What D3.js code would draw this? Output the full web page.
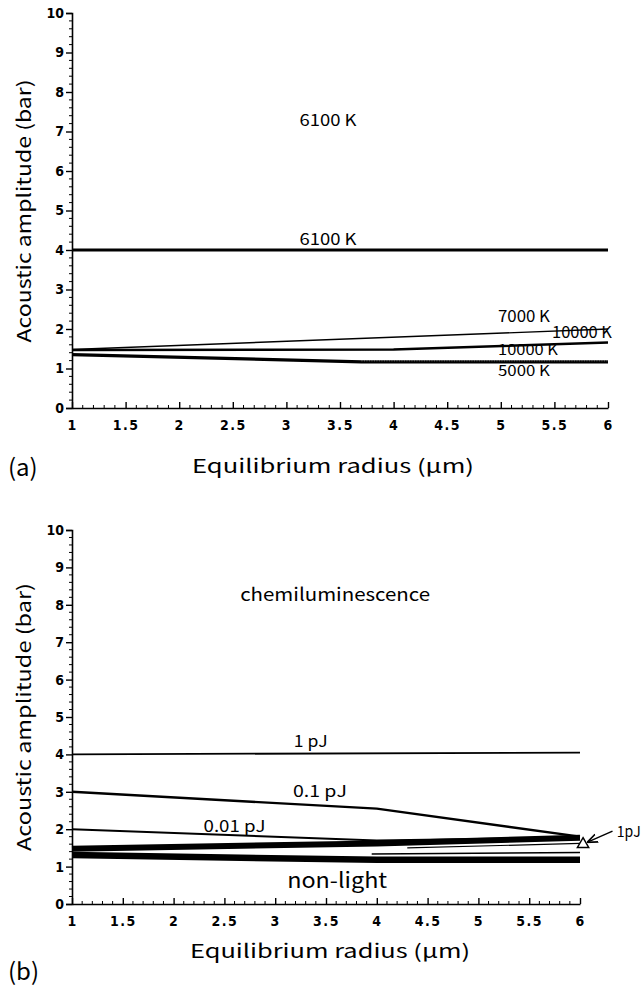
<!DOCTYPE html>
<html><head><meta charset="utf-8">
<script src="https://cdn.jsdelivr.net/npm/d3@7"></script>
<style>body{margin:0;background:#fff}svg{display:block}</style>
</head><body>
<svg id="c" width="642" height="992"></svg>
<script>
// ---------- data ----------
const xTickValues = [1,1.5,2,2.5,3,3.5,4,4.5,5,5.5,6];
const xTickLabels = ["1","1.5","2","2.5","3","3.5","4","4.5","5","5.5","6"];
const yTickValues = [0,1,2,3,4,5,6,7,8,9,10];
const yTickLabels = ["0","1","2","3","4","5","6","7","8","9","10"];

// panel (a): Acoustic amplitude (bar) vs equilibrium radius (um)
const a6100K  = [[1,4.0],[6,4.0]];
const a7000K  = [[1,1.48],[6,2.0]];
const a10000K = [[1,1.47],[4,1.48],[6,1.66]];
const a5000K  = [[1,1.35],[3.7,1.17],[6,1.17]];
const aLabels = ["6100 K","6100 K","7000 K","10000 K","10000 K","5000 K"];

// panel (b)
const b1pJ     = [[1,4.0],[6,4.05]];
const b01pJ    = [[1,3.0],[4,2.55],[6,1.8]];
const b001pJ   = [[1,2.0],[4,1.7],[6,1.78]];
const bBandUp  = [[1,1.48],[4,1.62],[6,1.77]];
const bBandLow = [[1,1.31],[4,1.18],[6,1.18]];
const bThinA   = [[3.95,1.34],[6,1.38]];
const bThinB   = [[4.3,1.5],[6,1.62]];
const bMarker  = [6.03,1.6];
const bLabels  = ["chemiluminescence","1 pJ","0.1 pJ","0.01 pJ","non-light","1pJ"];

const xTitle = "Equilibrium radius (\u03bcm)";
const yTitle = "Acoustic amplitude (bar)";

// ---------- drawing ----------
const svg = d3.select("#c");
const FT = "'Liberation Sans Narrow','DejaVu Sans Condensed','Noto Sans',sans-serif";
const FL = "'Noto Sans CJK JP','Noto Sans',sans-serif";

function panel(cfg){
  const g = svg.append("g");
  const x = d3.scaleLinear().domain([1,6]).range([cfg.x0,cfg.x1]);
  const y = d3.scaleLinear().domain([0,10]).range([cfg.y0,cfg.y1]);

  // y axis
  const yAx = d3.axisLeft(y).tickValues(yTickValues).tickFormat((d,i)=>yTickLabels[i]).tickSize(6).tickPadding(2);
  const gy = g.append("g").attr("transform",`translate(${cfg.x0},0)`).call(yAx);
  gy.select(".domain").attr("stroke","#000").attr("stroke-width",1.6);
  gy.selectAll(".tick line").attr("stroke","#000").attr("stroke-width",1.4);
  gy.selectAll("text").attr("font-family",FT).attr("font-weight","bold").attr("font-size",14).attr("fill","#000");
  const yMinor = d3.range(0,10.001,0.2).filter(v=>Math.abs(v-Math.round(v))>1e-6);
  g.append("g").selectAll("line").data(yMinor).join("line")
    .attr("x1",cfg.x0-3).attr("x2",cfg.x0).attr("y1",d=>y(d)).attr("y2",d=>y(d))
    .attr("stroke","#000").attr("stroke-width",1);

  // x axis (ticks pointing inward/up)
  const xAx = d3.axisBottom(x).tickValues(xTickValues).tickFormat((d,i)=>xTickLabels[i]).tickSizeInner(-6).tickSizeOuter(0).tickPadding(12);
  const gx = g.append("g").attr("transform",`translate(0,${cfg.y0})`).call(xAx);
  gx.select(".domain").attr("stroke","#000").attr("stroke-width",1.6);
  gx.selectAll(".tick line").attr("stroke","#000").attr("stroke-width",1.4);
  gx.selectAll("text").attr("font-family",FT).attr("font-weight","bold").attr("font-size",14).attr("fill","#000")
    .attr("letter-spacing",1.5);
  const xMinor = d3.range(1,6.001,0.1).filter(v=>Math.abs(v*2-Math.round(v*2))>1e-6);
  g.append("g").selectAll("line").data(xMinor).join("line")
    .attr("x1",d=>x(d)).attr("x2",d=>x(d)).attr("y1",cfg.y0-3).attr("y2",cfg.y0)
    .attr("stroke","#000").attr("stroke-width",1);

  // titles
  g.append("text").attr("x",cfg.xtX).attr("y",cfg.xtY).attr("text-anchor","middle")
    .attr("font-family",FL).attr("font-size",19).attr("textLength",cfg.xtLen).attr("lengthAdjust","spacingAndGlyphs")
    .text(xTitle);
  g.append("text").attr("transform",`translate(${cfg.ytX},${cfg.ytY}) rotate(-90)`).attr("text-anchor","middle")
    .attr("font-family",FL).attr("font-size",19).attr("textLength",cfg.ytLen).attr("lengthAdjust","spacingAndGlyphs")
    .text(yTitle);
  g.append("text").attr("x",8).attr("y",cfg.tagY).attr("font-family",FL).attr("font-size",24).text(cfg.tag);

  const line = d3.line().x(d=>x(d[0])).y(d=>y(d[1]));
  return {g,x,y,line};
}

// ----- panel (a)
const A = panel({x0:72,x1:608,y0:408,y1:13,xtX:333,xtY:473,xtLen:282,ytX:31,ytY:211,ytLen:263,tagY:476,tag:"(a)"});
[[a6100K,2.8],[a7000K,1.4],[a10000K,2.6],[a5000K,3.2]].forEach(([d,w])=>{
  A.g.append("path").datum(d).attr("d",A.line).attr("fill","none").attr("stroke","#000").attr("stroke-width",w);
});
// greyish speckled end of the 5000 K line
A.g.append("path").datum(a5000K.slice(1)).attr("d",A.line).attr("fill","none").attr("stroke","#888")
  .attr("stroke-width",1).attr("stroke-dasharray","1,1.5").attr("transform","translate(0,-1)");
const aLabPos = [[328,7.15,57,16],[328,4.12,57,16],[524,2.17,52,16],[582,1.78,60,16],[528,1.33,60,14.5],[524,0.8,52,14.5]];
aLabPos.forEach((p,i)=>{
  A.g.append("text").attr("x",A.x(1+(p[0]-72)/107.2)).attr("y",A.y(p[1])).attr("text-anchor","middle")
    .attr("font-family",FL).attr("font-size",p[3]).attr("textLength",p[2]).attr("lengthAdjust","spacingAndGlyphs")
    .text(aLabels[i]);
});

// ----- panel (b)
const B = panel({x0:72,x1:580,y0:904,y1:530,xtX:330,xtY:958,xtLen:280,ytX:31,ytY:717,ytLen:268,tagY:980,tag:"(b)"});
[[b1pJ,1.8],[b01pJ,2.4],[b001pJ,2.0],[bBandUp,6],[bBandLow,6.5],[bThinA,1.5],[bThinB,1.2]].forEach(([d,w])=>{
  B.g.append("path").datum(d).attr("d",B.line).attr("fill","none").attr("stroke","#000").attr("stroke-width",w);
});
// marker triangle
const tri = d3.symbol().type(d3.symbolTriangle).size(55);
B.g.append("path").attr("d",tri).attr("transform",`translate(${B.x(bMarker[0])},${B.y(bMarker[1])})`)
  .attr("fill","#fff").attr("stroke","#000").attr("stroke-width",1.5);
// arrow
svg.append("defs").append("marker").attr("id","ah").attr("viewBox","0 0 10 10").attr("refX",9).attr("refY",5)
  .attr("markerWidth",7).attr("markerHeight",7).attr("orient","auto")
  .append("path").attr("d","M0,1 L10,5 L0,9").attr("fill","none").attr("stroke","#000").attr("stroke-width",1.6);
B.g.append("line").attr("x1",B.x(6.32)).attr("y1",B.y(1.95)).attr("x2",B.x(6.08)).attr("y2",B.y(1.66))
  .attr("stroke","#000").attr("stroke-width",1.5).attr("marker-end","url(#ah)");
const bLabPos = [[3.59,8.1,190,18],[3.35,4.2,34,16],[3.44,2.85,54,16],[2.6,1.92,62,16],[3.61,0.44,100,21],[6.48,1.8,24,15]];
bLabPos.forEach((p,i)=>{
  B.g.append("text").attr("x",B.x(p[0])).attr("y",B.y(p[1])).attr("text-anchor","middle")
    .attr("font-family",FL).attr("font-size",p[3]).attr("textLength",p[2]).attr("lengthAdjust","spacingAndGlyphs")
    .text(bLabels[i]);
});
</script>
</body></html>
